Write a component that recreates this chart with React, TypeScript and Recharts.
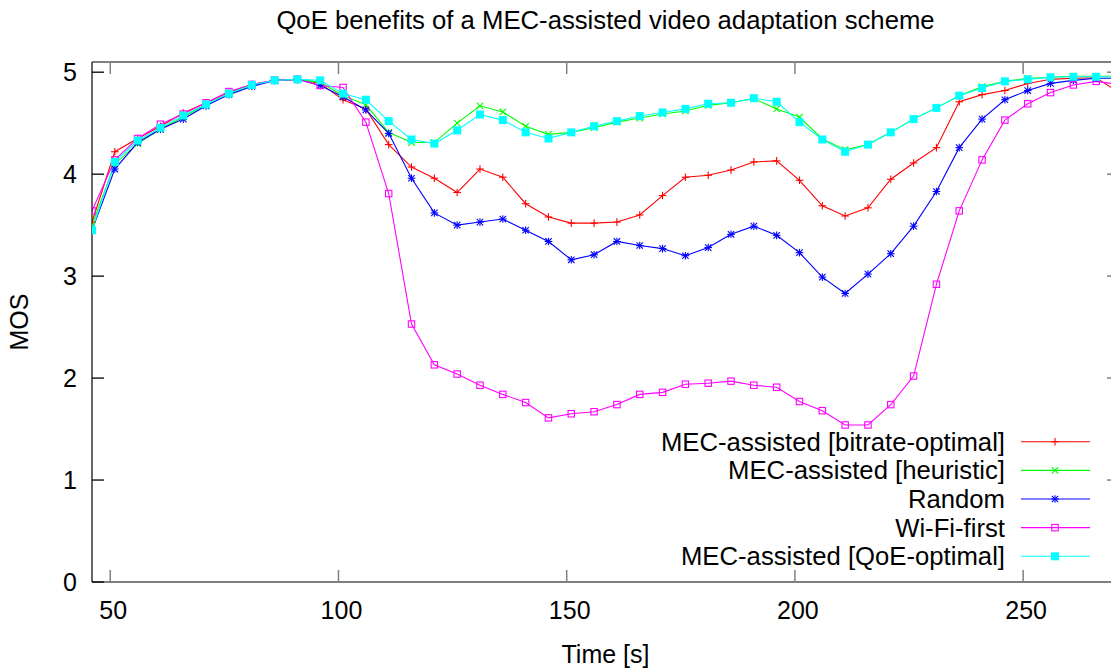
import React from 'react';
import { LineChart, Line, XAxis, YAxis, Legend, Label } from 'recharts';

const times = [46, 51, 56, 61, 66, 71, 76, 81, 86, 91, 96, 101, 106, 111, 116, 121, 126, 131, 136, 141, 146, 151, 156, 161, 166, 171, 176, 181, 186, 191, 196, 201, 206, 211, 216, 221, 226, 231, 236, 241, 246, 251, 256, 261, 266, 271];

const bitrateOptimal = [3.53, 4.22, 4.35, 4.47, 4.60, 4.70, 4.80, 4.88, 4.92, 4.93, 4.89, 4.73, 4.64, 4.29, 4.07, 3.96, 3.82, 4.05, 3.97, 3.71, 3.58, 3.52, 3.52, 3.53, 3.60, 3.79, 3.97, 3.99, 4.04, 4.12, 4.13, 3.94, 3.69, 3.59, 3.67, 3.95, 4.11, 4.26, 4.71, 4.78, 4.82, 4.89, 4.93, 4.94, 4.945, 4.80];
const heuristic = [3.50, 4.10, 4.30, 4.44, 4.56, 4.68, 4.79, 4.87, 4.92, 4.93, 4.90, 4.77, 4.68, 4.41, 4.31, 4.31, 4.50, 4.67, 4.61, 4.47, 4.39, 4.41, 4.455, 4.51, 4.55, 4.59, 4.62, 4.675, 4.70, 4.74, 4.64, 4.56, 4.345, 4.24, 4.29, 4.41, 4.54, 4.65, 4.77, 4.86, 4.91, 4.94, 4.95, 4.96, 4.96, 4.96];
const randomSel = [3.45, 4.05, 4.31, 4.44, 4.54, 4.67, 4.78, 4.86, 4.92, 4.93, 4.87, 4.76, 4.63, 4.40, 3.96, 3.62, 3.50, 3.53, 3.56, 3.45, 3.34, 3.16, 3.21, 3.34, 3.30, 3.27, 3.20, 3.28, 3.41, 3.49, 3.40, 3.23, 2.99, 2.83, 3.02, 3.22, 3.49, 3.83, 4.26, 4.54, 4.73, 4.82, 4.89, 4.92, 4.94, 4.94];
const wifiFirst = [3.64, 4.14, 4.35, 4.49, 4.59, 4.70, 4.81, 4.88, 4.92, 4.93, 4.87, 4.85, 4.51, 3.81, 2.53, 2.13, 2.04, 1.93, 1.84, 1.76, 1.61, 1.65, 1.67, 1.74, 1.84, 1.86, 1.94, 1.95, 1.97, 1.93, 1.91, 1.77, 1.68, 1.54, 1.54, 1.74, 2.02, 2.92, 3.64, 4.14, 4.53, 4.69, 4.80, 4.875, 4.91, 4.88];
const qoeOptimal = [3.45, 4.12, 4.33, 4.455, 4.575, 4.685, 4.79, 4.875, 4.92, 4.93, 4.92, 4.79, 4.73, 4.52, 4.34, 4.30, 4.43, 4.585, 4.53, 4.41, 4.35, 4.41, 4.47, 4.52, 4.57, 4.605, 4.64, 4.69, 4.70, 4.745, 4.71, 4.51, 4.34, 4.22, 4.29, 4.41, 4.54, 4.65, 4.77, 4.845, 4.91, 4.93, 4.95, 4.955, 4.955, 4.955];

const xTicks = [50, 100, 150, 200, 250];
const yTicks = [0, 1, 2, 3, 4, 5];

const seriesNames = [
  'MEC-assisted [bitrate-optimal]',
  'MEC-assisted [heuristic]',
  'Random',
  'Wi-Fi-first',
  'MEC-assisted [QoE-optimal]',
];
const seriesKeys = ['bitrate', 'heuristic', 'random', 'wifi', 'qoe'];
const seriesColors = ['#ff0000', '#00ff00', '#0000ff', '#ff00ff', '#00ffff'];
const seriesMarkers = ['plus', 'cross', 'star', 'square', 'fsquare'];
const seriesValues = [bitrateOptimal, heuristic, randomSel, wifiFirst, qoeOptimal];

const data = times.map((t, i) => {
  const row: Record<string, number> = { t };
  seriesKeys.forEach((k, j) => {
    row[k] = seriesValues[j][i];
  });
  return row;
});

const FONT = "'Liberation Sans', Arial, sans-serif";

function Marker({ kind, cx, cy, color }: { kind: string; cx: number; cy: number; color: string }) {
  if (cx == null || cy == null || isNaN(cx) || isNaN(cy)) return <g />;
  const s = 3.8;
  const d = 3.2;
  if (kind === 'plus') {
    return (
      <g stroke={color} strokeWidth={1.1}>
        <line x1={cx - s} x2={cx + s} y1={cy} y2={cy} />
        <line x1={cx} x2={cx} y1={cy - s} y2={cy + s} />
      </g>
    );
  }
  if (kind === 'cross') {
    return (
      <g stroke={color} strokeWidth={1.1}>
        <line x1={cx - d} x2={cx + d} y1={cy - d} y2={cy + d} />
        <line x1={cx - d} x2={cx + d} y1={cy + d} y2={cy - d} />
      </g>
    );
  }
  if (kind === 'star') {
    return (
      <g stroke={color} strokeWidth={1.1}>
        <line x1={cx - s} x2={cx + s} y1={cy} y2={cy} />
        <line x1={cx} x2={cx} y1={cy - s} y2={cy + s} />
        <line x1={cx - d} x2={cx + d} y1={cy - d} y2={cy + d} />
        <line x1={cx - d} x2={cx + d} y1={cy + d} y2={cy - d} />
      </g>
    );
  }
  if (kind === 'square') {
    return <rect x={cx - 3.2} y={cy - 3.2} width={6.4} height={6.4} fill="none" stroke={color} strokeWidth={1.1} />;
  }
  return <rect x={cx - 4} y={cy - 4} width={8} height={8} fill={color} stroke="none" />;
}

const BottomTick = (props: any) => {
  const { x, y, payload } = props;
  return (
    <g>
      <line x1={x} x2={x} y1={y} y2={y - 12} stroke="#808080" strokeWidth={1.5} />
      <text x={x + 3} y={y + 37} textAnchor="middle" fontFamily={FONT} fontSize={25} fill="#000">
        {payload.value}
      </text>
    </g>
  );
};

const TopTick = (props: any) => {
  const { x, y } = props;
  return <line x1={x} x2={x} y1={y} y2={y + 12} stroke="#808080" strokeWidth={1.5} />;
};

const LeftTick = (props: any) => {
  const { x, y, payload } = props;
  return (
    <g>
      <line x1={x} x2={x + 12} y1={y} y2={y} stroke="#000" strokeWidth={1.3} />
      <text x={x - 15} y={y} dy="0.355em" textAnchor="end" fontFamily={FONT} fontSize={25} fill="#000">
        {payload.value}
      </text>
    </g>
  );
};

const RightTick = (props: any) => {
  const { x, y } = props;
  return <line x1={x} x2={x - 12} y1={y} y2={y} stroke="#808080" strokeWidth={1.5} />;
};

const renderLegend = () => (
  <svg width={500} height={150} style={{ display: 'block' }}>
    {seriesNames.map((name, i) => {
      const cy = 14.7 + i * 28.65;
      return (
        <g key={name}>
          <text x={405} y={cy} dy="0.355em" textAnchor="end" fontFamily={FONT} fontSize={25.7} fill="#000">
            {name}
          </text>
          <line x1={421} x2={490} y1={cy} y2={cy} stroke={seriesColors[i]} strokeWidth={1.1} />
          <Marker kind={seriesMarkers[i]} cx={455} cy={cy} color={seriesColors[i]} />
        </g>
      );
    })}
  </svg>
);

export default function App() {
  return (
    <div style={{ position: 'fixed', left: 0, top: 0, width: 1111, height: 670, overflow: 'hidden', background: '#fff' }}>
      <LineChart width={1125} height={670} data={data} margin={{ top: 61, right: 5, bottom: 0, left: 0 }}>
        <XAxis
          dataKey="t"
          type="number"
          domain={[46, 271]}
          allowDataOverflow
          ticks={xTicks}
          interval={0}
          height={88}
          tickSize={0}
          tickMargin={0}
          tick={<BottomTick />}
          axisLine={{ stroke: '#000', strokeWidth: 1.2 }}
        >
          <Label
            content={(p: any) => {
              const vb = p.viewBox;
              return (
                <text x={vb.x + vb.width / 2} y={vb.y + vb.height - 7} textAnchor="middle" fontFamily={FONT} fontSize={25} fill="#000">
                  Time [s]
                </text>
              );
            }}
          />
        </XAxis>
        <XAxis
          xAxisId="top"
          orientation="top"
          dataKey="t"
          type="number"
          domain={[46, 271]}
          allowDataOverflow
          ticks={xTicks}
          interval={0}
          height={1}
          tickSize={0}
          tickMargin={0}
          tick={<TopTick />}
          axisLine={{ stroke: '#000', strokeWidth: 1.2 }}
        >
          <Label
            content={(p: any) => {
              const vb = p.viewBox;
              return (
                <text x={vb.x + vb.width / 2} y={vb.y + vb.height - 33.5} textAnchor="middle" fontFamily={FONT} fontSize={25.7} fill="#000">
                  QoE benefits of a MEC-assisted video adaptation scheme
                </text>
              );
            }}
          />
        </XAxis>
        <YAxis
          type="number"
          domain={[0, 5.1]}
          allowDataOverflow
          ticks={yTicks}
          interval={0}
          width={92}
          tickSize={0}
          tickMargin={0}
          tick={<LeftTick />}
          axisLine={{ stroke: '#000', strokeWidth: 1.2 }}
        >
          <Label
            content={(p: any) => {
              const vb = p.viewBox;
              const cx = vb.x + 19;
              const cy = vb.y + vb.height / 2;
              return (
                <text x={cx} y={cy} dy="0.355em" textAnchor="middle" transform={`rotate(-90 ${cx} ${cy})`} fontFamily={FONT} fontSize={25} fill="#000">
                  MOS
                </text>
              );
            }}
          />
        </YAxis>
        <YAxis
          yAxisId="right"
          orientation="right"
          type="number"
          domain={[0, 5.1]}
          allowDataOverflow
          ticks={yTicks}
          interval={0}
          width={1}
          tickSize={0}
          tickMargin={0}
          tick={<RightTick />}
          axisLine={{ stroke: '#000', strokeWidth: 1.2 }}
        />
        <Legend
          layout="vertical"
          align="center"
          verticalAlign="middle"
          content={renderLegend}
          wrapperStyle={{ left: 600, top: 427, width: 500, height: 150 }}
        />
        <Line
          xAxisId="top"
          yAxisId="right"
          dataKey="qoe"
          stroke="none"
          strokeOpacity={0}
          dot={false}
          activeDot={false}
          legendType="none"
          isAnimationActive={false}
        />
        {seriesKeys.map((k, i) => (
          <Line
            key={k}
            dataKey={k}
            name={seriesNames[i]}
            type="linear"
            stroke={seriesColors[i]}
            strokeWidth={1.1}
            isAnimationActive={false}
            activeDot={false}
            dot={(p: any) => (
              <Marker key={`${k}-${p.index}`} kind={seriesMarkers[i]} cx={p.cx} cy={p.cy} color={seriesColors[i]} />
            )}
          />
        ))}
      </LineChart>
    </div>
  );
}
